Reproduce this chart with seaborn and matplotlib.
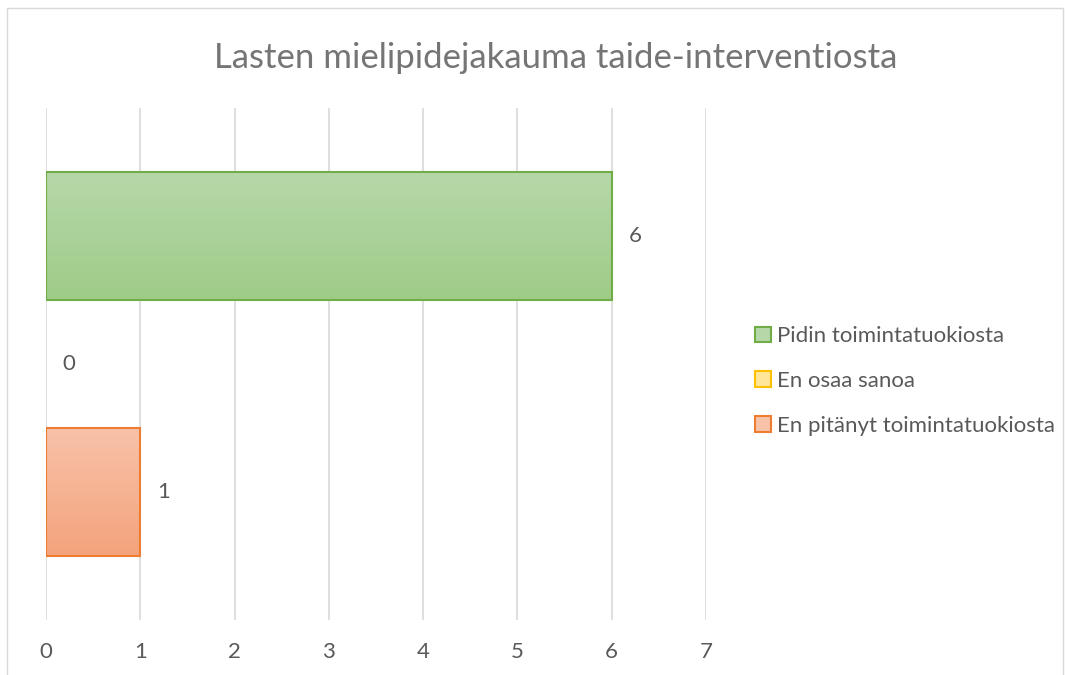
import numpy as np
import pandas as pd
import matplotlib
matplotlib.use("Agg")
import matplotlib.pyplot as plt
from matplotlib.patches import Rectangle, Patch
from matplotlib.colors import to_rgb
import seaborn as sns

categories = ["Pidin toimintatuokiosta", "En osaa sanoa", "En pitänyt toimintatuokiosta"]
values = [6, 0, 1]
x_ticks = [0, 1, 2, 3, 4, 5, 6, 7]
title = "Lasten mielipidejakauma taide-interventiosta"

edge_colors = ["#70ad47", "#ffc000", "#ed7d31"]
top_colors = ["#b6d8a9", "#ffe699", "#f8c2a9"]
bottom_colors = ["#9fcb88", "#ffd966", "#f4a37c"]

sns.set_theme(style="white")
plt.rcParams["font.family"] = ["Lato", "DejaVu Sans"]

df = pd.DataFrame({"cat": categories, "val": values})

fig = plt.figure(figsize=(10.65, 6.75), dpi=100)
ax = fig.add_axes([46 / 1065, 1 - 620 / 675, 660 / 1065, 512 / 675])

sns.barplot(data=df, y="cat", x="val", hue="cat", order=categories, hue_order=categories,
            palette=bottom_colors, orient="h", width=1.0, dodge=False, legend=False, ax=ax)

bars = [p for p in ax.patches]
for p, ec, tc, bc in zip(bars, edge_colors, top_colors, bottom_colors):
    x0, y0 = p.get_x(), p.get_y()
    w, h = p.get_width(), p.get_height()
    if w > 0:
        p.set_edgecolor(ec)
        p.set_linewidth(1.5)
        t = np.linspace(0, 1, 64)[:, None]
        c0, c1 = np.array(to_rgb(tc)), np.array(to_rgb(bc))
        img = (c0[None, None, :] * (1 - t[:, :, None]) + c1[None, None, :] * t[:, :, None])
        img = np.repeat(img, 2, axis=1)
        im = ax.imshow(img, extent=(x0, x0 + w, y0 + h, y0), aspect="auto", zorder=p.get_zorder(),
                       interpolation="bilinear")
        im.set_clip_path(p)
        p.set_facecolor("none")
        p.set_zorder(p.get_zorder() + 0.1)
    else:
        p.set_edgecolor("none")
        p.set_linewidth(0)

for cont in ax.containers:
    ax.bar_label(cont, fmt="%g", padding=12, fontsize=16, color="#595959")

ax.set_xlim(0, 7)
ax.set_ylim(3, -1)
ax.set_xticks(x_ticks)
ax.set_xticklabels([str(v) for v in x_ticks], fontsize=16, color="#595959")
ax.tick_params(axis="x", length=0, pad=16)
ax.set_yticks([])
ax.set_xlabel("")
ax.set_ylabel("")
ax.grid(axis="x", color="#d9d9d9", linewidth=1.2)
ax.set_axisbelow(True)
for s in ax.spines.values():
    s.set_visible(False)

fig.text(0.5 * (218 + 893) / 1065, 1 - 58 / 675, title, ha="center", va="center",
         fontsize=25, color="#757575")

handles = [Patch(facecolor=tc, edgecolor=ec, linewidth=1.5) for tc, ec in zip(top_colors, edge_colors)]
leg = fig.legend(handles, categories, loc="center left", bbox_to_anchor=(735 / 1065, 1 - 381 / 675),
                 frameon=False, fontsize=16, labelcolor="#595959", handlelength=0.7, handleheight=0.7,
                 handletextpad=0.3, labelspacing=1.12)

fig.patches.append(Rectangle((7 / 1065, -0.01), 1056 / 1065, 1 - 8 / 675 + 0.01, transform=fig.transFigure,
                             fill=False, edgecolor="#d9d9d9", linewidth=1))

fig.savefig("out.png", dpi=100)
